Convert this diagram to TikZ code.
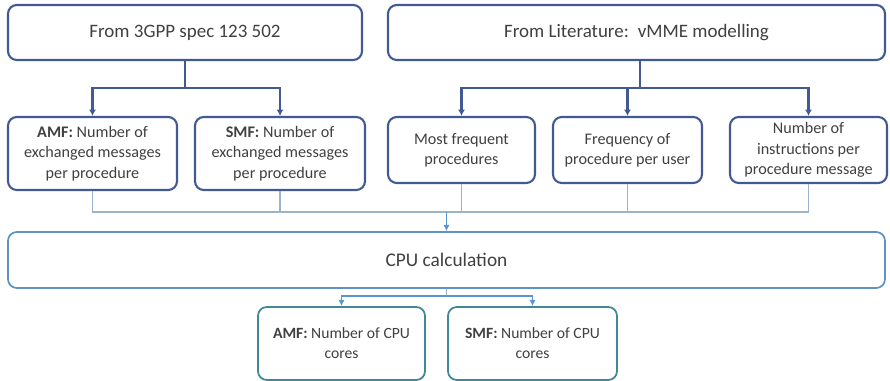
\documentclass[tikz,border=0pt]{standalone}
\usepackage{fontspec}
\setmainfont{Carlito}
\usetikzlibrary{arrows.meta}

\definecolor{navyline}{HTML}{415A94}
\definecolor{cpuline}{HTML}{5E93C4}
\definecolor{tealline}{HTML}{3F8899}
\definecolor{thinline}{HTML}{9CB3CC}
\definecolor{arrowblue}{HTML}{5B95CF}
\definecolor{textgrey}{HTML}{404040}

\begin{document}
\begin{tikzpicture}[x=0.02cm,y=-0.02cm,
    box/.style={draw=navyline,line width=1.2pt,rounded corners=5pt,align=center,
                text=textgrey,inner sep=2pt},
    srcbox/.style={box,font=\fontsize{10.8}{13}\selectfont},
    itembox/.style={box,font=\fontsize{9.2}{11.6}\selectfont},
    cpubox/.style={box,draw=cpuline,line width=1pt,font=\fontsize{11}{13}\selectfont},
    corebox/.style={box,draw=tealline,line width=1pt,font=\fontsize{8.9}{11.4}\selectfont},
    feed/.style={draw=navyline,line width=1.2pt},
    feedarrow/.style={feed,-{Latex[length=3.6pt,width=4pt]}},
    merge/.style={draw=thinline,line width=0.6pt},
    mergearrow/.style={draw=arrowblue,line width=0.6pt,-{Latex[length=3.5pt,width=3.5pt]}}]
    \useasboundingbox (0,0) rectangle (890,381);

    % Sources
    \node[srcbox,minimum width=354*0.02cm,minimum height=55*0.02cm] (spec) at (185,32.5) {From 3GPP spec 123 502};
    \node[srcbox,minimum width=497*0.02cm,minimum height=55*0.02cm] (lit) at (636.5,32.5) {From Literature:\, vMME modelling};

    % Inputs from the spec
    \node[itembox,minimum width=169*0.02cm,minimum height=73*0.02cm] (amfmsg) at (92.5,153.5) {\textbf{AMF:} Number of\\exchanged messages\\per procedure};
    \node[itembox,minimum width=170*0.02cm,minimum height=73*0.02cm] (smfmsg) at (280,153.5) {\textbf{SMF:} Number of\\exchanged messages\\per procedure};

    % Inputs from literature
    \node[itembox,minimum width=147*0.02cm,minimum height=66*0.02cm] (mostfreq) at (461.5,150) {Most frequent\\procedures};
    \node[itembox,minimum width=149*0.02cm,minimum height=66*0.02cm] (peruser) at (627.5,150) {Frequency of\\procedure per user};
    \node[itembox,minimum width=157*0.02cm,minimum height=66*0.02cm] (instr) at (808.5,150) {Number of\\instructions per\\procedure message};

    % Calculation
    \node[cpubox,minimum width=877*0.02cm,minimum height=56*0.02cm] (cpu) at (446.5,260) {CPU calculation};

    % Results
    \node[corebox,minimum width=167*0.02cm,minimum height=73*0.02cm] (amfcpu) at (341.5,343.5) {\textbf{AMF:} Number of CPU\\cores};
    \node[corebox,minimum width=169*0.02cm,minimum height=73*0.02cm] (smfcpu) at (532.5,343.5) {\textbf{SMF:} Number of CPU\\cores};

    % Junctions
    \coordinate (specsplit) at (185,88);
    \coordinate (litsplit) at (640,88);
    \coordinate (join) at (446.5,212);
    \coordinate (cpusplit) at (446.5,296);

    % Arrows from the sources
    \draw[feed] (spec.south) -- (specsplit);
    \draw[feedarrow] (specsplit) -| (amfmsg.north);
    \draw[feedarrow] (specsplit) -| (smfmsg.north);
    \draw[feed] (lit.south -| litsplit) -- (litsplit);
    \draw[feedarrow] (litsplit) -| (mostfreq.north);
    \draw[feedarrow] (litsplit) -| (peruser.north);
    \draw[feedarrow] (litsplit) -| (instr.north);

    % Into the calculation
    \draw[merge] (amfmsg.south) |- (join);
    \draw[merge] (smfmsg.south) |- (join);
    \draw[merge] (mostfreq.south) |- (join);
    \draw[merge] (peruser.south) |- (join);
    \draw[merge] (instr.south) |- (join);
    \draw[mergearrow] (join) -- (cpu.north);

    % Out to the results
    \draw[merge] (cpu.south) -- (cpusplit);
    \draw[mergearrow] (cpusplit) -| (amfcpu.north);
    \draw[mergearrow] (cpusplit) -| (smfcpu.north);
\end{tikzpicture}
\end{document}
